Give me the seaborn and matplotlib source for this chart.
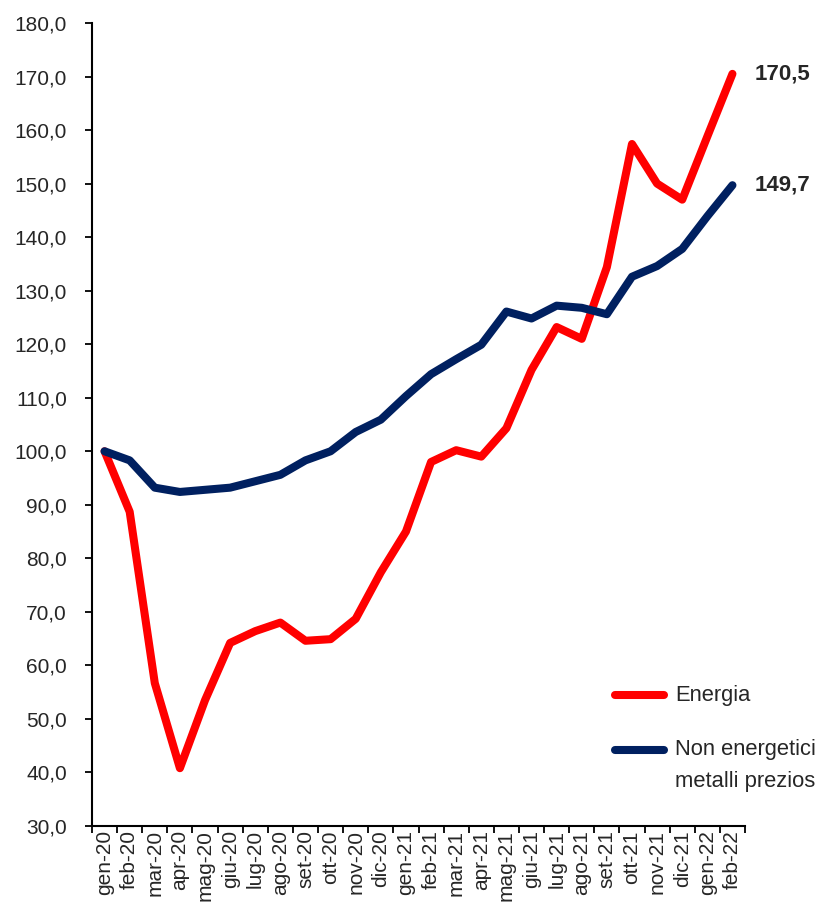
import matplotlib
matplotlib.use("Agg")
import matplotlib.pyplot as plt
from matplotlib import font_manager
import seaborn as sns
import pandas as pd
import numpy as np
from matplotlib.ticker import FuncFormatter, FixedLocator
from matplotlib.lines import Line2D

months = ["gen-20", "feb-20", "mar-20", "apr-20", "mag-20", "giu-20", "lug-20", "ago-20",
          "set-20", "ott-20", "nov-20", "dic-20", "gen-21", "feb-21", "mar-21", "apr-21",
          "mag-21", "giu-21", "lug-21", "ago-21", "set-21", "ott-21", "nov-21", "dic-21",
          "gen-22", "feb-22"]
energia = [100.0, 88.7, 56.7, 40.8, 53.5, 64.2, 66.4, 68.0, 64.6, 64.9, 68.7, 77.4,
           85.0, 98.0, 100.2, 99.0, 104.3, 115.2, 123.2, 121.0, 134.4, 157.4, 150.0, 147.0,
           158.8, 170.5]
non_energetici = [100.0, 98.3, 93.2, 92.4, 92.8, 93.2, 94.4, 95.6, 98.3, 100.0, 103.6, 105.9,
                  110.3, 114.4, 117.2, 119.9, 126.1, 124.8, 127.2, 126.8, 125.6, 132.6, 134.6, 137.8,
                  143.9, 149.7]
series_names = ["Energia", "Non energetici e\nmetalli preziosi"]
end_labels = ["170,5", "149,7"]
colors = ["#FF0000", "#002060"]

df = pd.DataFrame({
    "idx": list(range(len(months))) * 2,
    "valore": energia + non_energetici,
    "serie": [series_names[0]] * len(months) + [series_names[1]] * len(months),
})

sns.set_style("ticks")

try:
    font_manager.findfont(font_manager.FontProperties(family="Liberation Sans Narrow"),
                          fallback_to_default=False)
    fam = ["Liberation Sans Narrow", "DejaVu Sans"]
    fs = 18.5
except Exception:
    fam = ["Liberation Sans", "DejaVu Sans"]
    fs = 15
plt.rcParams["font.family"] = fam

fig = plt.figure(figsize=(8.16, 9.23), dpi=100)
ax = fig.add_axes([92 / 816, 1 - 826 / 923, (745 - 92) / 816, (826 - 23) / 923])

sns.lineplot(data=df, x="idx", y="valore", hue="serie",
             palette=colors, linewidth=5.8, ax=ax,
             legend=False, solid_capstyle="round", solid_joinstyle="round")

ax.set_xlim(-0.5, len(months) - 0.5)
ax.set_ylim(30, 180)
ax.set_yticks(np.arange(30, 181, 10))
ax.yaxis.set_major_formatter(FuncFormatter(lambda v, p: f"{v:.1f}".replace(".", ",")))
ax.set_xticks(range(len(months)))
ax.set_xticklabels(months, rotation=90, ha="center", va="top")
ax.xaxis.set_minor_locator(FixedLocator(np.arange(-0.5, len(months), 1.0)))
ax.tick_params(axis="x", which="major", length=0, pad=3, labelsize=fs)
ax.tick_params(axis="x", which="minor", length=5, width=1.3, color="black", direction="out")
ax.tick_params(axis="y", which="major", length=5, width=1.3, color="black", labelsize=fs, pad=13)
ax.set_xlabel("")
ax.set_ylabel("")
for s in ["top", "right"]:
    ax.spines[s].set_visible(False)
for s in ["left", "bottom"]:
    ax.spines[s].set_linewidth(1.5)
    ax.spines[s].set_color("black")

# End labels
for val, lab in zip([energia[-1], non_energetici[-1]], end_labels):
    ax.text(len(months) - 1 + 0.9, val, lab, fontsize=fs + 1, fontweight="bold",
            va="center", ha="left", clip_on=False)

# Legend (Excel-style: marker aligned with first text line)
lfs = fs + 0.8
def fx(px):
    return px / 816
def fy(py):
    return 1 - py / 923

for color, ypx in zip(colors, [695, 750]):
    fig.add_artist(Line2D([fx(615), fx(664)], [fy(ypx), fy(ypx)], transform=fig.transFigure,
                          color=color, lw=5.8, solid_capstyle="round"))
fig.text(fx(675), fy(695), series_names[0], fontsize=lfs, va="center", ha="left")
name_lines = series_names[1].split("\n")
fig.text(fx(675), fy(750), name_lines[0], fontsize=lfs, va="center", ha="left")
fig.text(fx(675), fy(782), name_lines[1], fontsize=lfs, va="center", ha="left")

fig.savefig("out.png", dpi=100)
